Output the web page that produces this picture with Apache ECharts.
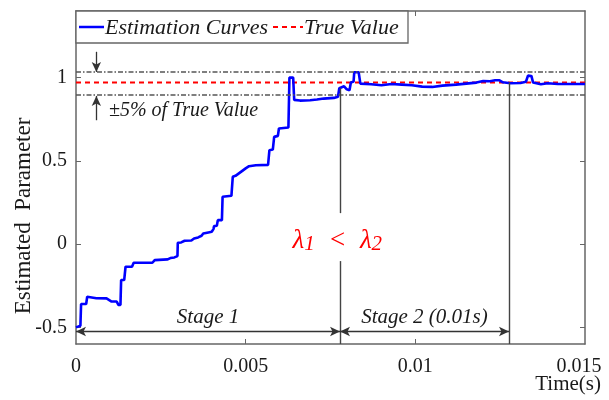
<!DOCTYPE html>
<html>
<head>
<meta charset="utf-8">
<script src="https://cdn.jsdelivr.net/npm/echarts@6/dist/echarts.min.js"></script>
<style>html,body{margin:0;padding:0;background:#fff}#c{width:609px;height:400px}</style>
</head>
<body>
<div id="c"></div>
<script>
// ---- data ----
const timeS = [0,0.00002,0.00013,0.00015,0.0003,0.00033,0.0006,0.0009,0.00105,0.0012,0.00125,0.00131,0.00133,0.00142,0.00146,0.00165,0.0017,0.00225,0.00232,0.0027,0.00278,0.0029,0.00295,0.00299,
0.003,0.0031,0.0032,0.0034,0.00348,0.0036,0.0037,0.00375,0.0039,0.004,0.00405,0.00407,0.00415,0.00418,0.0043,0.00432,0.00458,0.00462,0.0047,0.0048,0.0049,0.005,0.0051,0.0053,0.00566,0.0057,0.0058,0.00584,0.00595,0.00598,0.00626,0.00629,0.0064,0.00643,0.0066,0.0069,0.0071,0.0073,0.0076,0.00772,0.00776,0.0079,0.00798,0.00806,0.0081,0.00818,0.0082,0.00833,0.00838,0.0087,0.009,0.0093,0.0096,0.0099,0.0102,0.0105,0.0108,0.0112,0.0115,0.0118,0.012,0.0122,0.01235,0.01248,0.01258,0.0128,0.0131,0.01326,0.01332,0.01342,0.01347,0.0137,0.0139,0.0142,0.015];
const estimate = [-0.5,-0.49,-0.49,-0.36,-0.36,-0.316,-0.325,-0.326,-0.345,-0.345,-0.365,-0.366,-0.216,-0.216,-0.136,-0.136,-0.112,-0.112,-0.096,-0.092,-0.084,-0.08,-0.072,-0.072,
0.008,0.01,0.02,0.022,0.034,0.04,0.05,0.064,0.07,0.074,0.09,0.108,0.11,0.144,0.144,0.284,0.29,0.404,0.41,0.425,0.44,0.455,0.468,0.474,0.476,0.564,0.568,0.644,0.65,0.694,0.7,1.0,1.0,0.866,0.862,0.864,0.868,0.874,0.878,0.885,0.936,0.948,0.93,0.924,0.97,0.976,1.032,1.032,0.964,0.96,0.954,0.962,0.958,0.954,0.946,0.944,0.952,0.958,0.964,0.97,0.98,0.978,0.984,0.984,0.972,0.966,0.968,0.975,1.012,1.01,0.97,0.96,0.966,0.962,0.962];
const trueValue = 0.97;
const bandUpper = 1.035;
const bandLower = 0.895;
const xTicks = [0, 0.005, 0.01, 0.015];
const yTicks = [-0.5, 0, 0.5, 1];
const stageBounds = [0, 0.00778, 0.01276];
const stageLineTops = [0.936, 0.97];
const lambdaGap = [0.186, -0.102];
const stageArrowY = -0.525;
const stageLabels = ['Stage 1', 'Stage 2 (0.01s)'];
const stageLabelY = -0.438;
const bandArrowT = 0.0006;
const bandArrowDown = [1.155, 1.034];
const bandArrowUp = [0.744, 0.89];
const bandNote = '±5% of True Value';
const bandNotePos = [0.00097, 0.8];
const lambdaPos = [0.0077, 0.018];
const legendNames = ['Estimation Curves', 'True Value'];
const xMin = 0, xMax = 0.015, yMin = -0.6, yMax = 1.4;

// ---- chart ----
const serif = "'Liberation Serif', 'Times New Roman', serif";
const chart = echarts.init(document.getElementById('c'), null, {renderer: 'canvas'});
const axisCol = '#666';
const lineCol = '#444';
const grid = {left: 76, right: 24, top: 11, bottom: 56, containLabel: false};

const markLines = [];
[bandUpper, bandLower].forEach(v => markLines.push([{coord: [xMin, v]}, {coord: [xMax, v]}]));
const bandStyle = {color: '#555', width: 1.5, type: [5, 2, 1.5, 2]};
const vertStyle = {color: lineCol, width: 1.4, type: 'solid'};
const vlines = [
  [{coord: [stageBounds[1], stageLineTops[0]], lineStyle: vertStyle}, {coord: [stageBounds[1], lambdaGap[0]]}],
  [{coord: [stageBounds[1], lambdaGap[1]], lineStyle: vertStyle}, {coord: [stageBounds[1], yMin]}],
  [{coord: [stageBounds[2], stageLineTops[1]], lineStyle: vertStyle}, {coord: [stageBounds[2], yMin]}]
];
const arrowLines = [
  [{coord: [stageBounds[0], stageArrowY]}, {coord: [stageBounds[1], stageArrowY]}],
  [{coord: [stageBounds[1], stageArrowY]}, {coord: [stageBounds[2], stageArrowY]}]
];
const noteArrows = [
  [{coord: [bandArrowT, bandArrowDown[0]]}, {coord: [bandArrowT, bandArrowDown[1]]}],
  [{coord: [bandArrowT, bandArrowUp[0]]}, {coord: [bandArrowT, bandArrowUp[1]]}]
];

const textItems = [
  {value: [(stageBounds[0] + stageBounds[1]) / 2, stageLabelY], label: {formatter: stageLabels[0]}},
  {value: [(stageBounds[1] + stageBounds[2]) / 2, stageLabelY], label: {formatter: stageLabels[1]}},
  {value: bandNotePos, label: {formatter: bandNote, align: 'left', fontSize: 20}},
  {value: lambdaPos, label: {formatter: '{l|λ}{s|1}{l|  <  λ}{s|2}', rich: {
    l: {fontFamily: serif, fontStyle: 'italic', fontSize: 27, color: '#ff0000'},
    s: {fontFamily: serif, fontStyle: 'italic', fontSize: 21, color: '#ff0000', padding: [6, 0, 0, 0]}
  }}}
];

const txtCol = '#1a1a1a';
chart.setOption({
  animation: false,
  backgroundColor: '#fff',
  grid: grid,
  xAxis: [
    {type: 'value', min: xMin, max: xMax, position: 'bottom',
     axisLine: {show: true, onZero: false, lineStyle: {color: axisCol, width: 1.5}},
     axisTick: {show: true, inside: true, length: 5, customValues: [0.005, 0.01], lineStyle: {color: axisCol}},
     axisLabel: {show: true, customValues: xTicks, margin: 13, fontFamily: serif, fontSize: 20, color: txtCol,
       formatter: v => (v === xMax ? '{m|' + v + '}' : String(v)),
       rich: {m: {fontFamily: serif, fontSize: 20, color: txtCol, padding: [0, 12, 0, 0]}}},
     splitLine: {show: false}},
    {type: 'value', min: xMin, max: xMax, position: 'top',
     axisLine: {show: true, onZero: false, lineStyle: {color: axisCol, width: 1.5}},
     axisTick: {show: true, inside: true, length: 5, customValues: [0.005, 0.01], lineStyle: {color: axisCol}},
     axisLabel: {show: false}, splitLine: {show: false}}
  ],
  yAxis: [
    {type: 'value', min: yMin, max: yMax, position: 'left',
     axisLine: {show: true, onZero: false, lineStyle: {color: axisCol, width: 1.5}},
     axisTick: {show: true, inside: true, length: 5, customValues: yTicks, lineStyle: {color: axisCol}},
     axisLabel: {show: true, customValues: yTicks, margin: 9, fontFamily: serif, fontSize: 20, color: txtCol,
       formatter: v => String(v)},
     splitLine: {show: false}},
    {type: 'value', min: yMin, max: yMax, position: 'right',
     axisLine: {show: true, onZero: false, lineStyle: {color: axisCol, width: 1.5}},
     axisTick: {show: true, inside: true, length: 5, customValues: yTicks, lineStyle: {color: axisCol}},
     axisLabel: {show: false}, splitLine: {show: false}}
  ],
  graphic: [
    {type: 'text', x: 24, y: 216, rotation: Math.PI / 2, style: {text: 'Estimated  Parameter', fontFamily: serif, fontSize: 23, fill: txtCol, align: 'center', verticalAlign: 'middle'}},
    {type: 'text', x: 601, y: 384, style: {text: 'Time(s)', fontFamily: serif, fontSize: 21, fill: txtCol, align: 'right', verticalAlign: 'middle'}},
    // legend
    {type: 'rect', z: 50, shape: {x: 76, y: 11, width: 332, height: 32}, style: {fill: '#fff', stroke: '#666', lineWidth: 1.3}},
    {type: 'line', z: 51, shape: {x1: 79, y1: 27, x2: 104, y2: 27}, style: {stroke: '#0000ff', lineWidth: 2.5}},
    {type: 'text', z: 51, x: 105, y: 28, style: {text: legendNames[0], fontFamily: serif, fontStyle: 'italic', fontSize: 22, fill: txtCol, align: 'left', verticalAlign: 'middle'}},
    {type: 'line', z: 51, shape: {x1: 273, y1: 27, x2: 303, y2: 27}, style: {stroke: '#ff0000', lineWidth: 2, lineDash: [5, 4]}},
    {type: 'text', z: 51, x: 304, y: 28, style: {text: legendNames[1], fontFamily: serif, fontStyle: 'italic', fontSize: 22, fill: txtCol, align: 'left', verticalAlign: 'middle'}}
  ],
  series: [
    {name: 'helper', type: 'line', data: [], silent: true,
     markLine: {silent: true, symbol: ['none', 'none'], label: {show: false}, animation: false,
       lineStyle: bandStyle, data: markLines.concat(vlines)}},
    {name: 'arrows', type: 'line', data: [], silent: true,
     markLine: {silent: true, symbol: ['arrow', 'arrow'], symbolSize: [7, 10], label: {show: false}, animation: false,
       lineStyle: {color: '#333', width: 1.4, type: 'solid'}, data: arrowLines}},
    {name: 'noteArrows', type: 'line', data: [], silent: true,
     markLine: {silent: true, symbol: ['none', 'arrow'], symbolSize: [7, 10], label: {show: false}, animation: false,
       lineStyle: {color: '#333', width: 1.3, type: 'solid'}, data: noteArrows}},
    {name: legendNames[1], type: 'line', data: [[xMin, trueValue], [xMax, trueValue]], symbol: 'none',
     lineStyle: {color: '#ff0000', width: 2, type: [5, 4]}, itemStyle: {color: '#ff0000'}, z: 3},
    {name: legendNames[0], type: 'line', data: timeS.map((t, i) => [t, estimate[i]]), symbol: 'none',
     lineStyle: {color: '#0000ff', width: 2.6}, itemStyle: {color: '#0000ff'}, z: 4},
    {name: 'texts', type: 'scatter', data: textItems, symbolSize: 0, silent: true,
     itemStyle: {opacity: 1}, z: 5,
     label: {show: true, position: 'inside', fontFamily: serif, fontStyle: 'italic', fontSize: 21, color: txtCol, opacity: 1}}
  ]
});
</script>
</body>
</html>
